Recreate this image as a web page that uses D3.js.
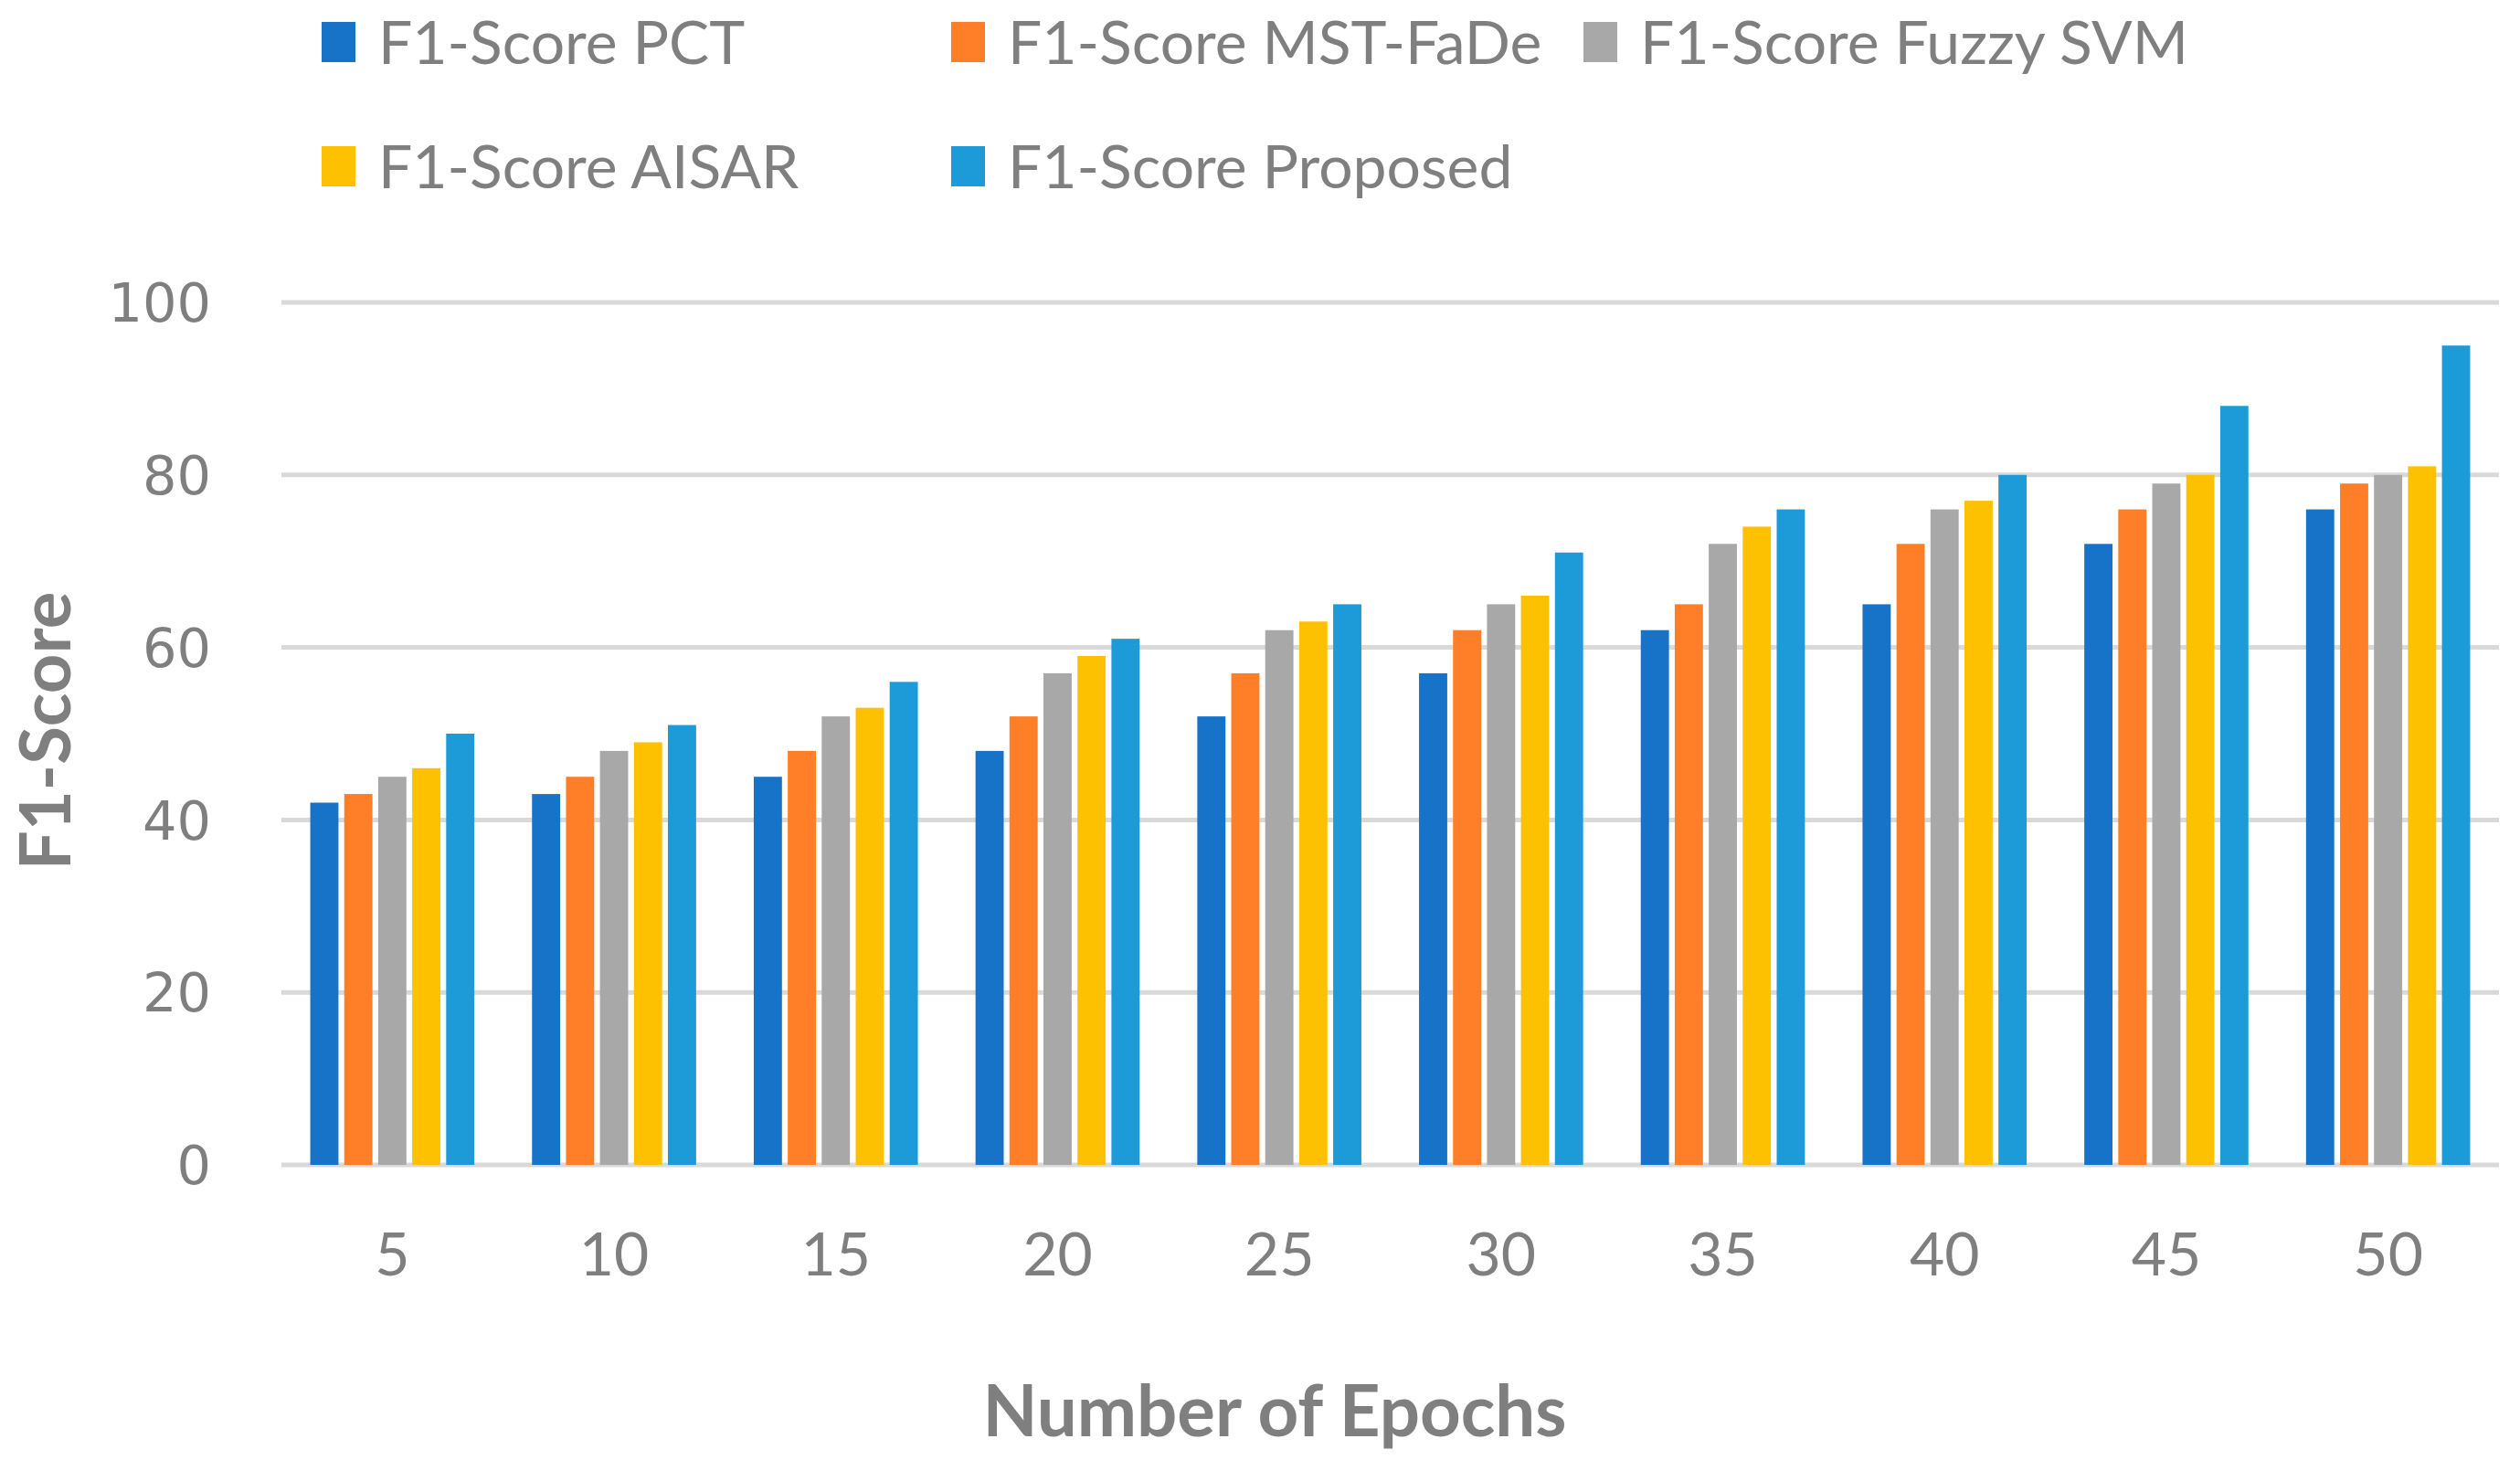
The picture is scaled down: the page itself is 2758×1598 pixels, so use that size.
<!DOCTYPE html>
<html>
<head>
  <meta charset="UTF-8">
  <title>F1-Score vs Number of Epochs</title>
  <style>
    body{ margin:0; background:#fff; }
    text{ fill:#7f7f7f; }
  </style>
</head>
<body>
<svg></svg>
<script src="https://d3js.org/d3.v7.min.js"></script>
<script>

let width = 2758, height = 1598;

// data
const epochs = ["5", "10", "15", "20", "25", "30", "35", "40", "45", "50"];
const seriesNames = ["F1-Score PCT", "F1-Score MST-FaDe", "F1-Score Fuzzy SVM", "F1-Score AISAR", "F1-Score Proposed"];
const pct      = [42, 43, 45, 48, 52, 57, 62, 65, 72, 76];
const mstFade  = [43, 45, 48, 52, 57, 62, 65, 72, 76, 79];
const fuzzySvm = [45, 48, 52, 57, 62, 65, 72, 76, 79, 80];
const aisar    = [46, 49, 53, 59, 63, 66, 74, 77, 80, 81];
const proposed = [50, 51, 56, 61, 65, 71, 76, 80, 88, 95];
const yTicks = [0, 20, 40, 60, 80, 100];
const colors = ["#1773c8", "#fe7f27", "#a8a8a8", "#fec102", "#1c9bd8"];

const allSeries = [pct, mstFade, fuzzySvm, aisar, proposed];

let svg = d3.select("svg")
    .attr("width", width)
    .attr("height", height)
    .attr("viewBox", "0 0 " + width + " " + height);

let plotLeft = 308, plotRight = 2735, plotTop = 331, plotBottom = 1275;

let x0 = d3.scaleBand()
    .domain(epochs)
    .range([plotLeft, plotRight]);

let bw = x0.bandwidth();
let x1 = d3.scaleBand()
    .domain(seriesNames)
    .range([bw * 0.13, bw * 0.87])
    .paddingInner(0.17);

let y = d3.scaleLinear()
    .domain([0, 100])
    .range([plotBottom, plotTop]);

// gridlines
svg.append("g")
    .selectAll("line")
    .data(yTicks)
    .enter().append("line")
    .attr("x1", plotLeft)
    .attr("x2", plotRight)
    .attr("y1", d => y(d))
    .attr("y2", d => y(d))
    .attr("stroke", "#d9d9d9")
    .attr("stroke-width", 5);

// y tick labels
svg.append("g")
    .selectAll("text")
    .data(yTicks)
    .enter().append("text")
    .attr("x", 231)
    .attr("y", d => y(d))
    .attr("dy", "0.36em")
    .attr("text-anchor", "end")
    .attr("font-family", "DejaVu Sans")
    .attr("font-size", 59)
    .text(d => d);

// bars
let groups = svg.append("g")
    .selectAll("g")
    .data(epochs)
    .enter().append("g")
    .attr("transform", d => "translate(" + x0(d) + ",0)");

groups.selectAll("rect")
    .data((d, i) => seriesNames.map((s, j) => ({ name: s, value: allSeries[j][i], k: j })))
    .enter().append("rect")
    .attr("x", d => x1(d.name))
    .attr("width", x1.bandwidth())
    .attr("y", d => y(d.value))
    .attr("height", d => plotBottom - y(d.value))
    .attr("fill", d => colors[d.k]);

// x tick labels
svg.append("g")
    .selectAll("text")
    .data(epochs)
    .enter().append("text")
    .attr("x", d => x0(d) + bw / 2)
    .attr("y", 1372)
    .attr("dy", "0.36em")
    .attr("text-anchor", "middle")
    .attr("font-family", "Lato")
    .attr("font-size", 66)
    .text(d => d);

// axis titles
svg.append("text")
    .attr("x", 1395)
    .attr("y", 1544)
    .attr("dy", "0.36em")
    .attr("text-anchor", "middle")
    .attr("font-family", "Lato")
    .attr("font-weight", "bold")
    .attr("font-size", 78)
    .text("Number of Epochs");

svg.append("text")
    .attr("transform", "translate(50,800) rotate(-90)")
    .attr("dy", "0.36em")
    .attr("text-anchor", "middle")
    .attr("font-family", "Lato")
    .attr("font-weight", "bold")
    .attr("font-size", 76)
    .text("F1-Score");

// legend
const legendX = [352, 1041, 1733, 352, 1041];
const legendY = [46, 46, 46, 182, 182];

let legend = svg.append("g")
    .selectAll("g")
    .data(seriesNames)
    .enter().append("g")
    .attr("transform", (d, i) => "translate(" + legendX[i] + "," + legendY[i] + ")");

legend.append("rect")
    .attr("x", 0)
    .attr("y", -22)
    .attr("width", 37)
    .attr("height", 44)
    .attr("fill", (d, i) => colors[i]);

legend.append("text")
    .attr("x", 62)
    .attr("y", 0)
    .attr("dy", "0.36em")
    .attr("font-family", "Lato")
    .attr("font-size", 66)
    .text(d => d);

</script>
</body>
</html>
